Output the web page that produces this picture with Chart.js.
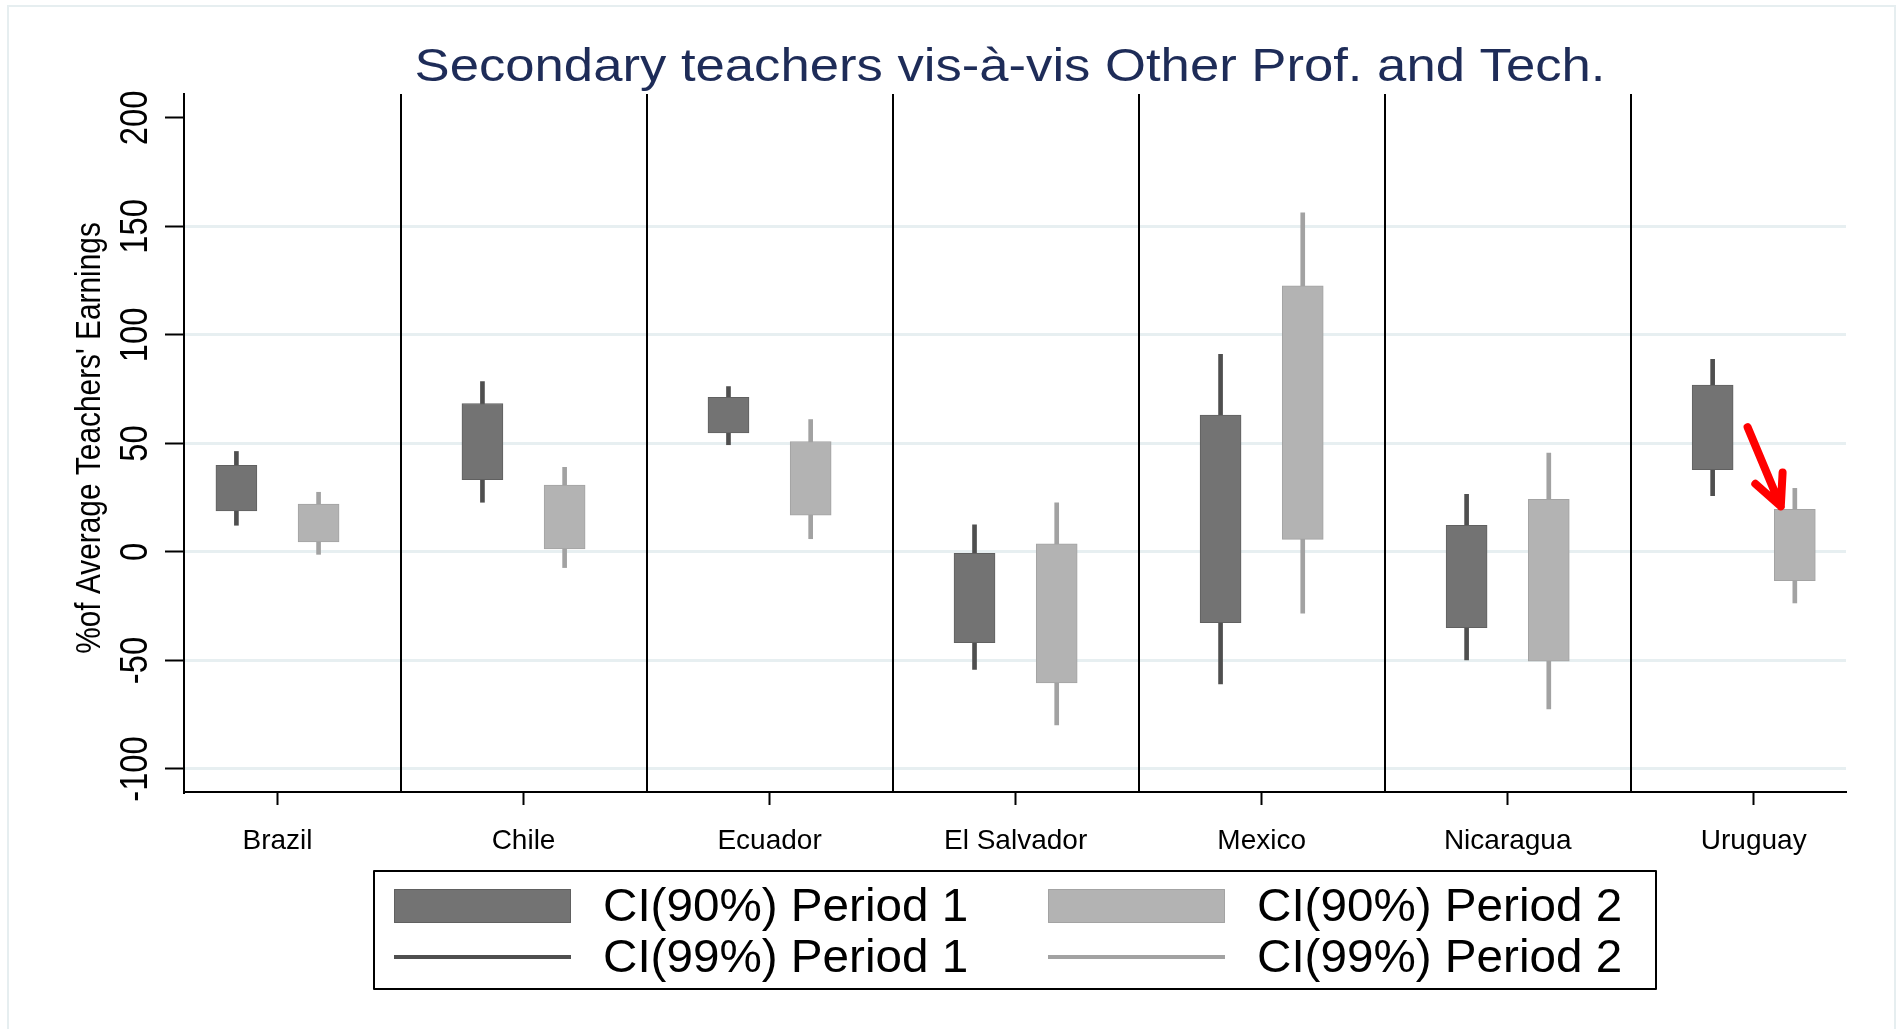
<!DOCTYPE html>
<html lang="en">
<head>
<meta charset="UTF-8">
<title>Secondary teachers vis-à-vis Other Prof. and Tech.</title>
<script src="https://cdn.jsdelivr.net/npm/chart.js"></script>
<style>
  html, body { margin: 0; padding: 0; background: #fff; }
  #wrap { width: 1902px; height: 1029px; }
</style>
</head>
<body>
<div id="wrap"><canvas id="chart" width="1902" height="1029"></canvas></div>
<script>
// categories and y ticks
const countries = ['Brazil', 'Chile', 'Ecuador', 'El Salvador', 'Mexico', 'Nicaragua', 'Uruguay'];
const yTicks = [-100, -50, 0, 50, 100, 150, 200];

// Period 1: 90% CI (box) and 99% CI (whisker)
const p1Lo90 = [18.9, 33.3, 54.9, -41.8, -32.6, -34.9, 37.9];
const p1Hi90 = [39.9, 68.4, 71.2, 0, 63.1, 12.3, 76.9];
const p1Lo99 = [12.3, 22.9, 49.4, -54.1, -60.8, -49.7, 25.9];
const p1Hi99 = [46.3, 78.5, 76.2, 12.5, 91, 26.5, 88.7];

// Period 2
const p2Lo90 = [4.6, 1.4, 16.9, -60.3, 5.8, -50.3, -13.2];
const p2Hi90 = [22.1, 30.8, 50.9, 3.7, 122.6, 24.2, 19.6];
const p2Lo99 = [-1.1, -7.2, 6.1, -79.7, -28.2, -72.3, -23.5];
const p2Hi99 = [27.5, 39, 61, 22.6, 156.3, 45.5, 29.3];

// red arrow annotation next to Uruguay, in data units [x, y]
const arrowFrom = [5.975, 57.5];
const arrowTo = [6.11, 21];

const SHIFT = 0.167; // offset of each period from the category centre
const FONT = '"Liberation Sans", Arial, sans-serif';

function floating(lo, hi, dx) {
    return countries.map((c, i) => ({ x: i + dx, y: [lo[i], hi[i]] }));
}

const datasets = [
    { label: 'CI(90%) Period 1', data: floating(p1Lo90, p1Hi90, -SHIFT), backgroundColor: '#737373',
      borderColor: '#606060', borderWidth: 1, borderSkipped: false, barThickness: 41, order: 1, kind: 'box' },
    { label: 'CI(90%) Period 2', data: floating(p2Lo90, p2Hi90, SHIFT), backgroundColor: '#b3b3b3',
      borderColor: '#a3a3a3', borderWidth: 1, borderSkipped: false, barThickness: 41, order: 1, kind: 'box' },
    { label: 'CI(99%) Period 1', data: floating(p1Lo99, p1Hi99, -SHIFT), backgroundColor: '#4f4f4f',
      borderWidth: 0, barThickness: 4, order: 2, kind: 'line' },
    { label: 'CI(99%) Period 2', data: floating(p2Lo99, p2Hi99, SHIFT), backgroundColor: '#a2a2a2',
      borderWidth: 0, barThickness: 4, order: 2, kind: 'line' }
];

// text drawn with a horizontal stretch factor sx (along the text)
function stretchedText(ctx, text, x, y, sx, rot) {
    ctx.save();
    ctx.translate(x, y);
    if (rot) ctx.rotate(rot);
    ctx.scale(sx, 1);
    ctx.fillText(text, 0, 0);
    ctx.restore();
}

const decor = {
    id: 'decor',
    beforeDatasetsDraw(chart) {
        const { ctx, chartArea, scales } = chart;
        // vertical separators between countries
        ctx.save();
        ctx.strokeStyle = '#000';
        ctx.lineWidth = 2;
        for (let i = 0; i < countries.length - 1; i++) {
            const px = Math.round(scales.x.getPixelForValue(i + 0.5));
            ctx.beginPath();
            ctx.moveTo(px, chartArea.top);
            ctx.lineTo(px, chartArea.bottom);
            ctx.stroke();
        }
        ctx.restore();
    },
    afterDraw(chart) {
        const { ctx, chartArea, scales } = chart;
        ctx.save();

        // outer frame
        ctx.strokeStyle = '#e6eef0';
        ctx.lineWidth = 2;
        ctx.strokeRect(8, 6, 1887, 1030);

        // title
        ctx.fillStyle = '#1e2c58';
        ctx.font = '47px ' + FONT;
        ctx.textAlign = 'center';
        ctx.textBaseline = 'middle';
        stretchedText(ctx, 'Secondary teachers vis-à-vis Other Prof. and Tech.', (chartArea.left + chartArea.right) / 2 - 5, 68, 1.12);

        // y tick labels, rotated and a bit condensed
        ctx.fillStyle = '#000';
        ctx.font = '39px ' + FONT;
        yTicks.forEach(v => {
            stretchedText(ctx, String(v), 136, scales.y.getPixelForValue(v), 0.84, -Math.PI / 2);
        });

        // y axis title
        ctx.font = '35px ' + FONT;
        stretchedText(ctx, "%of Average Teachers' Earnings", 90, (chartArea.top + chartArea.bottom) / 2 - 5, 0.853, -Math.PI / 2);

        // red arrow
        const tx = scales.x.getPixelForValue(arrowFrom[0]), ty = scales.y.getPixelForValue(arrowFrom[1]);
        const hx = scales.x.getPixelForValue(arrowTo[0]), hy = scales.y.getPixelForValue(arrowTo[1]);
        const ang = Math.atan2(ty - hy, tx - hx);
        ctx.strokeStyle = '#ff0000';
        ctx.lineWidth = 8;
        ctx.lineCap = 'round';
        ctx.lineJoin = 'round';
        ctx.beginPath();
        ctx.moveTo(tx, ty);
        ctx.lineTo(hx, hy);
        ctx.moveTo(hx + 34 * Math.cos(ang - 0.45), hy + 34 * Math.sin(ang - 0.45));
        ctx.lineTo(hx, hy);
        ctx.lineTo(hx + 34 * Math.cos(ang + 0.45), hy + 34 * Math.sin(ang + 0.45));
        ctx.stroke();

        // legend, 2 x 2 inside a box
        ctx.lineCap = 'butt';
        ctx.strokeStyle = '#000';
        ctx.lineWidth = 2;
        ctx.strokeRect(374, 871, 1282, 118);
        const colX = [394, 1048];
        const rowY = [906, 957];
        const slots = [[0, 0], [1, 0], [0, 1], [1, 1]];
        chart.data.datasets.forEach((ds, k) => {
            const [c, r] = slots[k];
            const x0 = colX[c], y0 = rowY[r];
            if (ds.kind === 'box') {
                ctx.fillStyle = ds.backgroundColor;
                ctx.fillRect(x0, y0 - 17, 177, 34);
                ctx.strokeStyle = ds.borderColor;
                ctx.lineWidth = 1;
                ctx.strokeRect(x0 + 0.5, y0 - 16.5, 176, 33);
            } else {
                ctx.fillStyle = ds.backgroundColor;
                ctx.fillRect(x0, y0 - 2, 177, 4);
            }
            ctx.fillStyle = '#000';
            ctx.font = '46px ' + FONT;
            ctx.textAlign = 'left';
            ctx.textBaseline = 'middle';
            stretchedText(ctx, ds.label, x0 + 209, y0 + 2, 1.035);
        });

        ctx.restore();
    }
};

new Chart(document.getElementById('chart'), {
    type: 'bar',
    data: { datasets },
    options: {
        responsive: false,
        animation: false,
        devicePixelRatio: 1,
        layout: { padding: { left: 0, right: 56, top: 94, bottom: 167 } },
        plugins: { legend: { display: false }, tooltip: { enabled: false }, title: { display: false } },
        datasets: { bar: { grouped: false } },
        scales: {
            x: {
                type: 'linear',
                min: -0.38,
                max: 6.375,
                offset: false,
                afterBuildTicks: scale => { scale.ticks = countries.map((c, i) => ({ value: i })); },
                afterFit: scale => { scale.height = 70; },
                ticks: {
                    autoSkip: false,
                    maxRotation: 0,
                    padding: 19,
                    color: '#000',
                    font: { family: FONT, size: 28 },
                    callback: v => countries[v]
                },
                grid: { offset: false, drawOnChartArea: false, drawTicks: true, tickLength: 13, tickColor: '#000', tickWidth: 2 },
                border: { display: true, color: '#000', width: 2 }
            },
            y: {
                type: 'linear',
                min: -110.6,
                max: 211,
                afterBuildTicks: scale => { scale.ticks = yTicks.map(v => ({ value: v })); },
                afterFit: scale => { scale.width = 184; },
                ticks: { display: false },
                grid: {
                    color: c => (c.tick && c.tick.value === 200) ? 'rgba(0,0,0,0)' : '#e7eff1',
                    lineWidth: 3,
                    drawTicks: true,
                    tickLength: 19,
                    tickColor: '#000',
                    tickWidth: 2
                },
                border: { display: true, color: '#000', width: 2 }
            }
        }
    },
    plugins: [decor]
});
</script>
</body>
</html>
